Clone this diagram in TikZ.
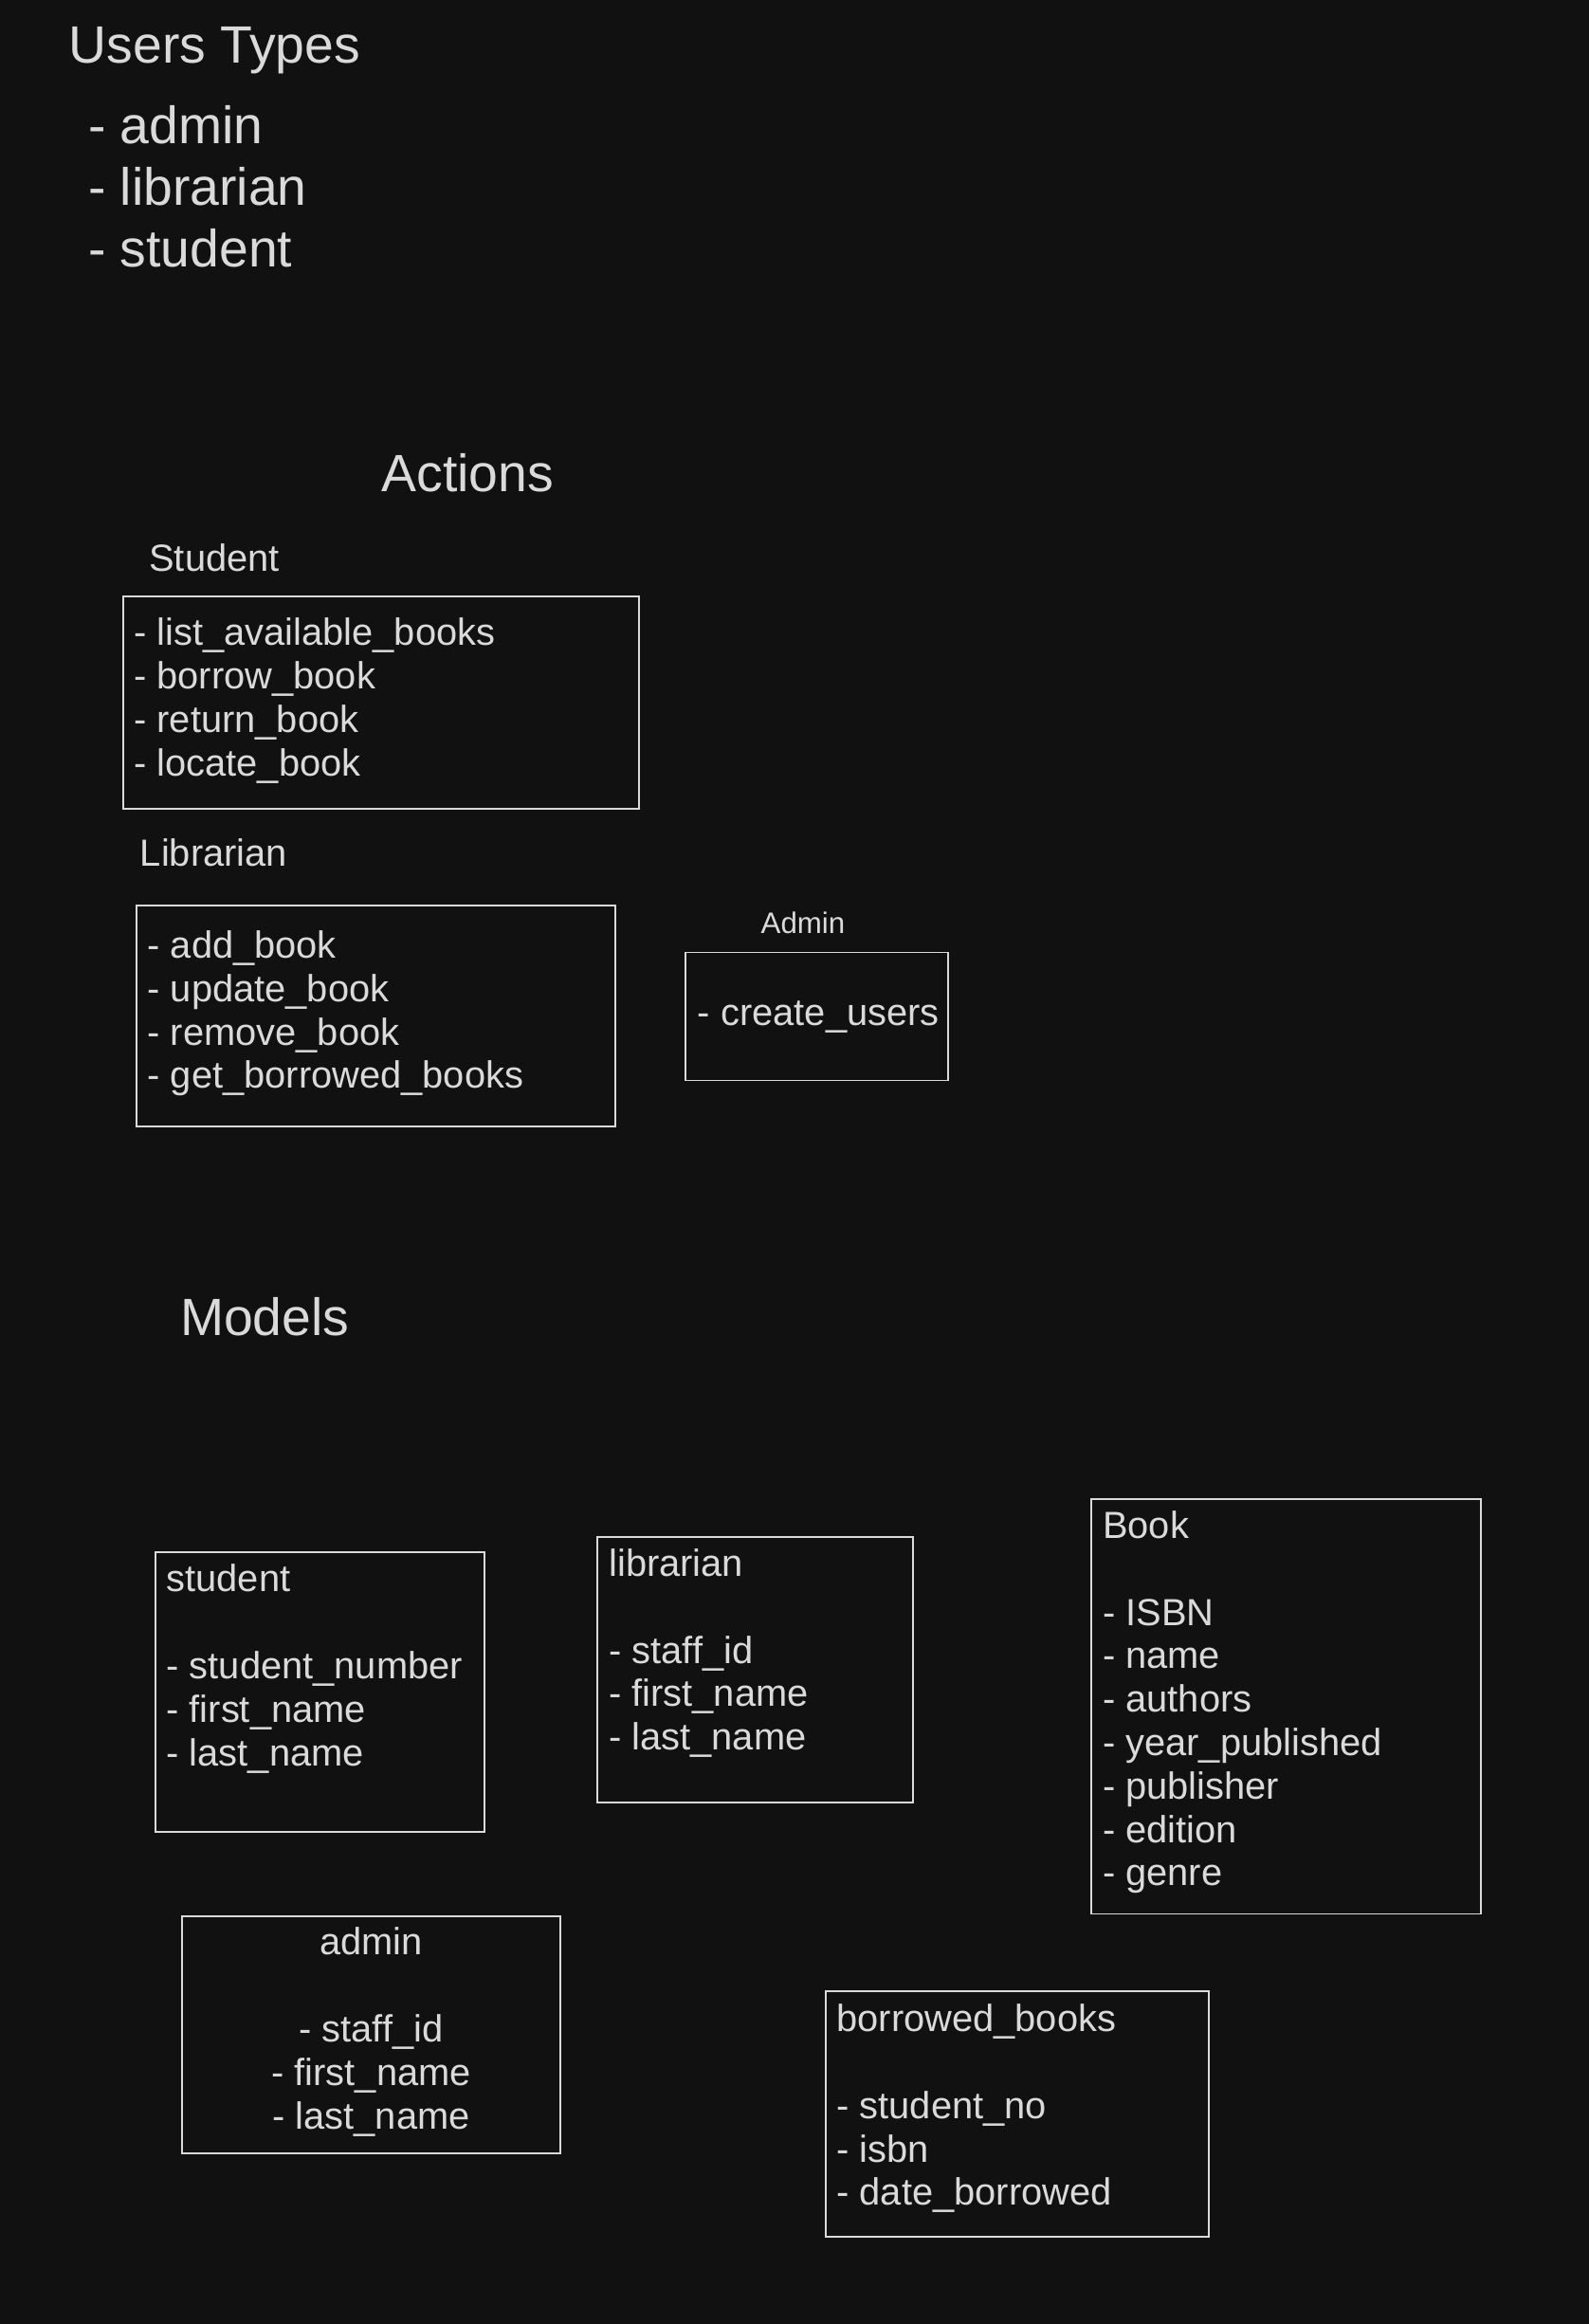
\documentclass[tikz,border=0pt]{standalone}
\usepackage{fontspec}
\setmainfont{Liberation Sans}
\definecolor{bg}{HTML}{111111}
\definecolor{fg}{HTML}{DADADA}
\newcommand{\rowx}[1]{\hbox{#1}}
\newcommand{\textblock}[2]{\vtop{\baselineskip=#1\relax #2}}
\newcommand{\centerblock}[1]{\vtop{\baselineskip=14.65pt\relax\halign{\hfil##\hfil\cr #1}}}
\begin{document}
\begin{tikzpicture}[x=0.5pt,y=-0.5pt,
  txt/.style={inner sep=0pt, outer sep=0pt, text=fg, anchor=base west},
  big/.style={txt, font=\fontsize{17.7}{20.7}\selectfont},
  mid/.style={txt, font=\fontsize{12.75}{14.65}\selectfont},
  sml/.style={txt, font=\fontsize{10}{12}\selectfont},
  box/.style={draw=fg, line width=0.6pt, fill=bg, rectangle, inner sep=0pt}]
\fill[bg] (0,0) rectangle (1072,1568);
\useasboundingbox (0,0) rectangle (1072,1568);

% Users types
\node[big] (usersTitle) at (46.5,42.7) {Users Types};
\node[big] (usersList) at (59.5,97.1) {\textblock{20.7pt}{\rowx{- admin}\rowx{- librarian}\rowx{- student}}};

% Actions
\node[big] (actionsTitle) at (257.5,331.7) {Actions};

\node[mid] (studentLbl) at (100.7,385.7) {Student};
\node[box, minimum width=174.15pt, minimum height=71.55pt] (studentActs) at (257.25,474.15) {};
\node[mid] (studentActsTxt) at (90.4,435.6) {\textblock{14.65pt}{\rowx{- list\_available\_books}\rowx{- borrow\_book}\rowx{- return\_book}\rowx{- locate\_book}}};

\node[mid] (librarianLbl) at (94.6,584.5) {Librarian};
\node[box, minimum width=161.4pt, minimum height=74.65pt] (librarianActs) at (253.8,685.45) {};
\node[mid] (librarianActsTxt) at (99.5,646.4) {\textblock{14.65pt}{\rowx{- add\_book}\rowx{- update\_book}\rowx{- remove\_book}\rowx{- get\_borrowed\_books}}};

\node[sml] (adminLbl) at (513.5,629.8) {Admin};
\node[box, minimum width=88.55pt, minimum height=43.2pt] (adminActs) at (551.05,685.8) {};
\node[mid] (adminActsTxt) at (470.8,691.6) {- create\_users};

% Models
\node[big] (modelsTitle) at (121.6,901.3) {Models};

\node[box, minimum width=111pt, minimum height=94.4pt] (studentModel) at (215.7,1141.4) {};
\node[mid] (studentModelTxt) at (112.3,1074) {\textblock{14.65pt}{\rowx{student}\rowx{}\rowx{- student\_number}\rowx{- first\_name}\rowx{- last\_name}}};

\node[box, minimum width=106.5pt, minimum height=89.6pt] (librarianModel) at (509.8,1126.4) {};
\node[mid] (librarianModelTxt) at (410.9,1063.5) {\textblock{14.65pt}{\rowx{librarian}\rowx{}\rowx{- staff\_id}\rowx{- first\_name}\rowx{- last\_name}}};

\node[box, minimum width=131.3pt, minimum height=140.05pt] (bookModel) at (867.7,1151.25) {};
\node[mid] (bookModelTxt) at (744.1,1037.9) {\textblock{14.65pt}{\rowx{Book}\rowx{}\rowx{- ISBN}\rowx{- name}\rowx{- authors}\rowx{- year\_published}\rowx{- publisher}\rowx{- edition}\rowx{- genre}}};

\node[box, minimum width=127.65pt, minimum height=80pt] (adminModel) at (250.45,1372.8) {};
\node[mid, anchor=base] (adminModelTxt) at (250.5,1319) {\centerblock{admin\cr\cr - staff\_id\cr - first\_name\cr - last\_name\cr}};

\node[box, minimum width=129.1pt, minimum height=82.65pt] (borrowedModel) at (686.5,1426.25) {};
\node[mid] (borrowedModelTxt) at (564.5,1370.7) {\textblock{14.65pt}{\rowx{borrowed\_books}\rowx{}\rowx{- student\_no}\rowx{- isbn}\rowx{- date\_borrowed}}};
\end{tikzpicture}
\end{document}
